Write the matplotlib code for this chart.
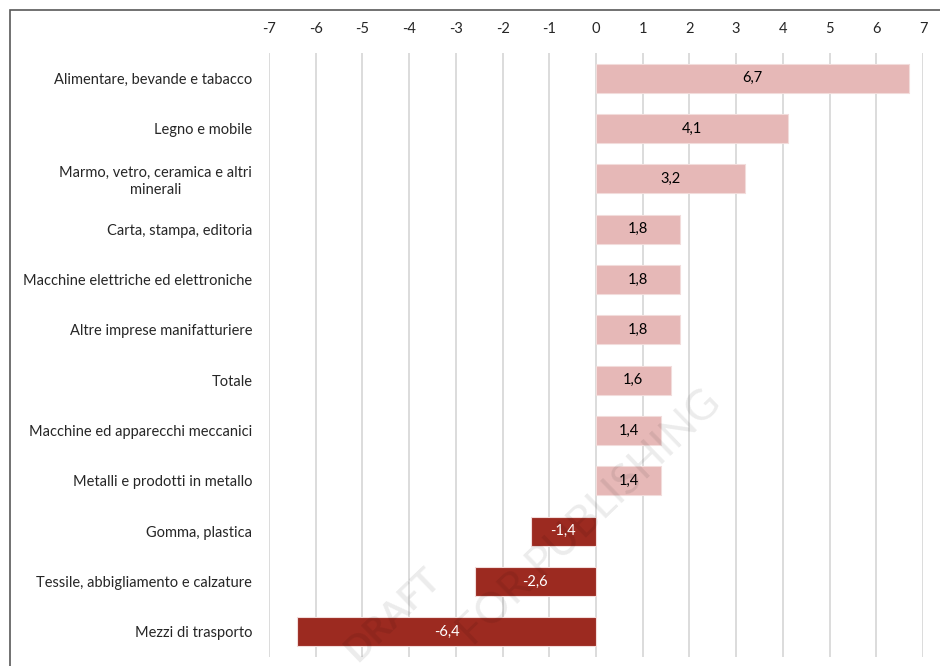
import matplotlib
matplotlib.use("Agg")
import matplotlib.pyplot as plt
from matplotlib.patches import Rectangle

categories = [
    "Alimentare, bevande e tabacco",
    "Legno e mobile",
    "Marmo, vetro, ceramica e altri\nminerali",
    "Carta, stampa, editoria",
    "Macchine elettriche ed elettroniche",
    "Altre imprese manifatturiere",
    "Totale",
    "Macchine ed apparecchi meccanici",
    "Metalli e prodotti in metallo",
    "Gomma, plastica",
    "Tessile, abbigliamento e calzature",
    "Mezzi di trasporto",
]
values = [6.7, 4.1, 3.2, 1.8, 1.8, 1.8, 1.6, 1.4, 1.4, -1.4, -2.6, -6.4]
ticks = list(range(-7, 8))

POS_COLOR = "#E6B8B7"
NEG_COLOR = "#9C2A20"

plt.rcParams["font.family"] = ["Lato", "DejaVu Sans"]

fig = plt.figure(figsize=(9.4, 6.66), dpi=100)
ax = fig.add_axes([269 / 940, 1 - 657 / 666, 654 / 940, 604 / 666])

y = list(range(len(categories)))
colors = [POS_COLOR if v >= 0 else NEG_COLOR for v in values]
ax.barh(y, values, height=0.58, color=colors, edgecolor="#F2DCDB",
        linewidth=0.8, zorder=3)

for yi, v in zip(y, values):
    txt = f"{v:.1f}".replace(".", ",")
    ax.text(v / 2, yi, txt, ha="center", va="center", fontsize=10.5,
            color="black" if v >= 0 else "white", zorder=4)

ax.set_xlim(-7, 7)
ax.set_ylim(len(categories) - 0.5, -0.5)
ax.set_xticks(ticks)
ax.set_xticklabels([str(t) for t in ticks])
ax.xaxis.tick_top()
ax.set_yticks(y)
ax.set_yticklabels(categories, multialignment="center")
ax.tick_params(axis="x", length=0, pad=12, labelsize=10.5, colors="#262626")
ax.tick_params(axis="y", length=0, pad=12, labelsize=10.5, colors="#262626")
ax.grid(axis="x", color="#D9D9D9", linewidth=1.3, zorder=0)
ax.set_axisbelow(True)
for s in ax.spines.values():
    s.set_visible(False)

# watermark
fig.text(392 / 940, 1 - 615 / 666, "DRAFT", fontsize=26, fontweight="bold",
         color="#000000", alpha=0.08, rotation=44, ha="center", va="center",
         zorder=5)
fig.text(590 / 940, 1 - 518 / 666, "FOR PUBLISHING", fontsize=31,
         color="#000000", alpha=0.08, rotation=44, ha="center", va="center",
         zorder=5)

# outer frame
fig.patches.append(Rectangle((9.5 / 940, -0.2), 1.2, 1.2 - 10 / 666,
                             transform=fig.transFigure, fill=False,
                             edgecolor="#595959", linewidth=1.2))

fig.savefig("out.png", dpi=100)
